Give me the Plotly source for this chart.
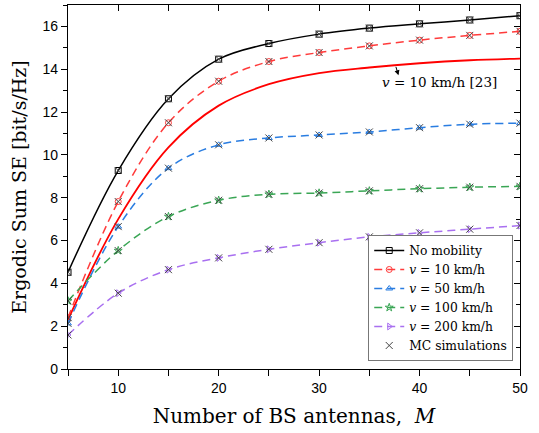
import plotly.graph_objects as go

M = [5, 10, 15, 20, 25, 30, 35, 40, 45, 50]
no_mob = [4.52, 9.27, 12.62, 14.47, 15.2, 15.64, 15.92, 16.12, 16.3, 16.5]
v10 = [2.4, 7.82, 11.5, 13.44, 14.36, 14.78, 15.09, 15.36, 15.58, 15.77]
v10_ref = [2.3, 7.0, 10.35, 12.3, 13.3, 13.82, 14.08, 14.28, 14.42, 14.5]
v50 = [2.13, 6.65, 9.38, 10.47, 10.79, 10.93, 11.07, 11.27, 11.43, 11.48]
v100 = [3.18, 5.53, 7.12, 7.88, 8.16, 8.22, 8.32, 8.42, 8.49, 8.53]
v200 = [1.59, 3.54, 4.64, 5.19, 5.59, 5.9, 6.17, 6.36, 6.53, 6.7]

series = [
    ("No mobility", no_mob, "#000000", "solid", "square-open"),
    ("<i>v</i> = 10 km/h", v10, "#ff3b3b", "8px,5px", "circle-open"),
    ("<i>v</i> = 50 km/h", v50, "#2a7de1", "8px,5px", "triangle-up-open"),
    ("<i>v</i> = 100 km/h", v100, "#3aa655", "8px,5px", "star-open"),
    ("<i>v</i> = 200 km/h", v200, "#a970f0", "8px,5px", "triangle-right-open"),
]

serif = "DejaVu Serif"
sans = "Liberation Sans"

fig = go.Figure()

# reference curve [23]
fig.add_trace(go.Scatter(x=M, y=v10_ref, mode="lines", showlegend=False,
                         line=dict(color="#ff0000", width=1.8, shape="spline")))

for name, ys, col, dash, sym in series:
    fig.add_trace(go.Scatter(
        x=M, y=ys, mode="lines+markers", name=name,
        line=dict(color=col, width=1.5, dash=dash, shape="spline"),
        marker=dict(symbol=sym, size=6, color=col, line=dict(width=1, color=col)),
    ))

for i, (name, ys, col, dash, sym) in enumerate(series):
    fig.add_trace(go.Scatter(
        x=M, y=ys, mode="markers", name="MC simulations",
        legendgroup="mc", showlegend=(i == 0),
        marker=dict(symbol="x-thin-open", size=7, color="#444444",
                    line=dict(width=1, color="#444444")),
    ))

fig.add_annotation(x=41.95, y=13.42, xref="x", yref="y",
                   text="<i>v</i> = 10 km/h [23]", showarrow=False,
                   font=dict(family=serif, size=13.5, color="black"))
fig.add_annotation(x=37.9, y=13.72, ax=37.6, ay=14.18, xref="x", yref="y",
                   axref="x", ayref="y", text="", showarrow=True,
                   arrowhead=2, arrowsize=1, arrowwidth=1, arrowcolor="black")

fig.update_layout(
    width=539, height=433,
    margin=dict(l=68, r=19, t=5, b=64),
    plot_bgcolor="white", paper_bgcolor="white",
    font=dict(family=sans, size=14, color="black"),
    xaxis=dict(range=[5, 50], tick0=0, dtick=10, ticks="outside", ticklen=6,
               tickwidth=1, tickcolor="black", showline=True, linecolor="black",
               linewidth=1.2, showgrid=False, zeroline=False,
               tickfont=dict(family=sans, size=14),
               minor=dict(ticks="outside", dtick=5, tick0=0, ticklen=6, tickcolor="black"),
               title=dict(text="Number of BS antennas,  <i>M</i>",
                          font=dict(family=serif, size=20), standoff=14)),
    yaxis=dict(range=[0, 17], tick0=0, dtick=2, ticks="outside", ticklen=6,
               tickwidth=1, tickcolor="black", showline=True, linecolor="black",
               linewidth=1.2, showgrid=False, zeroline=False,
               tickfont=dict(family=sans, size=14),
               minor=dict(ticks="outside", dtick=1, ticklen=4, tickcolor="black"),
               title=dict(text="Ergodic Sum SE [bit/s/Hz]",
                          font=dict(family=serif, size=19), standoff=10)),
    xaxis2=dict(range=[5, 50], overlaying="x", side="top", tick0=0, dtick=10,
                ticks="inside", ticklen=6, tickcolor="black", showline=True,
                linecolor="black", linewidth=1.2, showticklabels=False,
                showgrid=False, zeroline=False,
                minor=dict(ticks="inside", dtick=5, tick0=0, ticklen=6, tickcolor="black")),
    yaxis2=dict(range=[0, 17], overlaying="y", side="right", tick0=0, dtick=2,
                ticks="inside", ticklen=6, tickcolor="black", showline=True,
                linecolor="black", linewidth=1.2, showticklabels=False,
                showgrid=False, zeroline=False,
                minor=dict(ticks="inside", dtick=1, ticklen=4, tickcolor="black")),
    legend=dict(x=0.985, y=0.022, xanchor="right", yanchor="bottom",
                bgcolor="white", bordercolor="#777777", borderwidth=1,
                font=dict(family=serif, size=12.3), tracegroupgap=0,
                itemwidth=30),
    showlegend=True,
)

# dummy invisible trace so the secondary axes are drawn
fig.add_trace(go.Scatter(x=[None], y=[None], xaxis="x2", yaxis="y2",
                         showlegend=False, hoverinfo="skip"))

fig.write_html("out.html", config={"displayModeBar": False},
               post_script="document.body.style.margin='0px';")
